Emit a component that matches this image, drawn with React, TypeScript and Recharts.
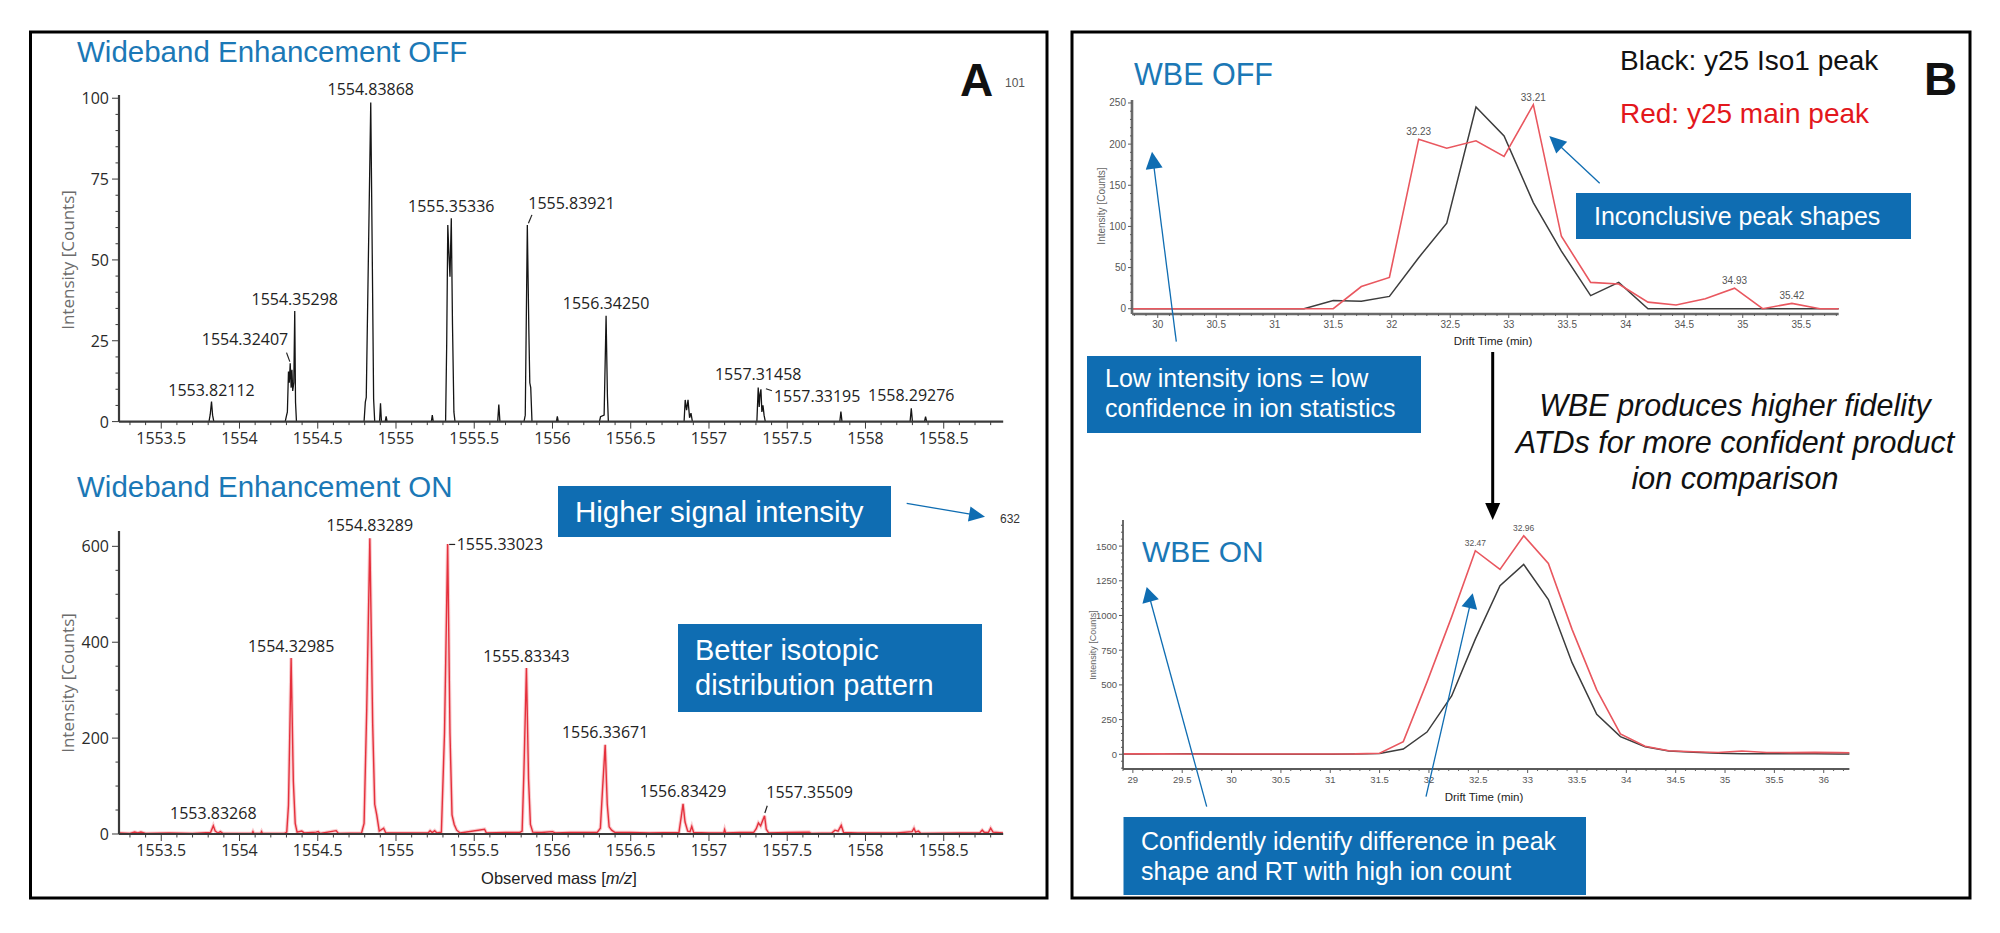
import React from 'react';
import { LineChart, Line, XAxis, YAxis, ReferenceDot } from 'recharts';

// ---------- Panel A: isotope envelopes (m/z vs counts) ----------
const mzDomain: [number, number] = [1553.23, 1558.88];
const mzMajorTicks = [1553.5, 1554, 1554.5, 1555, 1555.5, 1556, 1556.5, 1557, 1557.5, 1558, 1558.5];
const offCountTicks = [0, 25, 50, 75, 100];
const onCountTicks = [0, 200, 400, 600];
const offCountMax = 101;
const onCountMax = 632;

// Wideband Enhancement OFF spectrum: [m/z, counts]
const offSpectrum: [number, number][] = [
  [1553.23, 0], [1553.805, 0], [1553.813, 2.2], [1553.82112, 6.2], [1553.828, 2.0], [1553.836, 0],
  [1554.292, 0], [1554.3, 1.8], [1554.306, 3.0], [1554.313, 15.5], [1554.318, 12.0], [1554.32407, 18.0],
  [1554.33, 10.5], [1554.335, 16.0], [1554.34, 9.5], [1554.347, 12.0], [1554.35298, 34.2], [1554.358, 6.0], [1554.364, 0],
  [1554.796, 0], [1554.804, 6.0], [1554.81, 7.5], [1554.824, 52.0], [1554.83868, 98.7], [1554.849, 48.0], [1554.857, 7.0], [1554.864, 0],
  [1554.895, 0], [1554.901, 5.7], [1554.907, 0], [1554.931, 0], [1554.937, 1.6], [1554.943, 0],
  [1555.226, 0], [1555.232, 2.0], [1555.238, 0],
  [1555.317, 0], [1555.324, 24.0], [1555.331, 60.8], [1555.338, 52.0], [1555.345, 44.8], [1555.35336, 62.9],
  [1555.361, 30.0], [1555.37, 3.0], [1555.377, 0],
  [1555.65, 0], [1555.657, 5.3], [1555.664, 0],
  [1555.818, 0], [1555.826, 2.0], [1555.83921, 60.8], [1555.849, 28.0], [1555.855, 12.0], [1555.861, 10.5], [1555.869, 0],
  [1556.025, 0], [1556.031, 1.6], [1556.037, 0],
  [1556.3, 0], [1556.307, 1.5], [1556.33, 2.0], [1556.3425, 32.7], [1556.351, 8.0], [1556.357, 0],
  [1556.841, 0], [1556.848, 6.7], [1556.857, 3.5], [1556.866, 6.7], [1556.876, 1.2], [1556.885, 2.6], [1556.894, 0],
  [1557.306, 0], [1557.31458, 10.5], [1557.321, 4.5], [1557.326, 8.5], [1557.33195, 10.0], [1557.338, 3.0],
  [1557.345, 5.0], [1557.352, 2.0], [1557.36, 0],
  [1557.836, 0], [1557.843, 3.1], [1557.85, 0],
  [1558.285, 0], [1558.29276, 4.1], [1558.3, 0],
  [1558.377, 0], [1558.384, 1.5], [1558.391, 0],
  [1558.88, 0],
];

// Wideband Enhancement ON spectrum: [m/z, counts]
const onSpectrum: [number, number][] = [
  [1553.23, 2], [1553.3, 1], [1553.33, 4], [1553.35, 2], [1553.37, 4], [1553.4, 1], [1553.55, 2], [1553.7, 1],
  [1553.815, 3], [1553.83268, 17.3], [1553.845, 6], [1553.862, 2], [1553.878, 5], [1553.895, 1],
  [1554.08, 1], [1554.086, 5], [1554.092, 1], [1554.135, 1], [1554.141, 5], [1554.147, 1],
  [1554.285, 1], [1554.302, 4], [1554.313, 60], [1554.32985, 367], [1554.344, 110], [1554.356, 22], [1554.368, 4],
  [1554.398, 6], [1554.415, 2], [1554.49, 4], [1554.503, 5], [1554.515, 1], [1554.618, 7], [1554.632, 1],
  [1554.78, 2], [1554.796, 22], [1554.813, 260], [1554.83289, 617], [1554.851, 230], [1554.864, 62], [1554.877, 40],
  [1554.893, 6], [1554.921, 12], [1554.935, 2],
  [1555.205, 2], [1555.218, 7], [1555.232, 3], [1555.247, 7], [1555.262, 2],
  [1555.29, 4], [1555.31, 210], [1555.33023, 605], [1555.345, 210], [1555.358, 40], [1555.372, 20], [1555.388, 8], [1555.41, 2],
  [1555.566, 10], [1555.578, 2], [1555.7, 3], [1555.79, 3],
  [1555.806, 6], [1555.817, 125], [1555.83343, 346], [1555.847, 115], [1555.859, 20], [1555.874, 4],
  [1555.93, 3], [1556.0, 5], [1556.02, 2], [1556.11, 3],
  [1556.285, 3], [1556.306, 12], [1556.321, 100], [1556.33671, 186], [1556.35, 62], [1556.362, 15], [1556.378, 8], [1556.4, 3],
  [1556.5, 3], [1556.62, 2],
  [1556.808, 3], [1556.821, 32], [1556.83429, 63], [1556.847, 25], [1556.864, 6], [1556.879, 5], [1556.89, 16], [1556.902, 3],
  [1557.0, 2], [1557.094, 2], [1557.1, 9], [1557.106, 2], [1557.2, 3],
  [1557.285, 3], [1557.302, 11], [1557.316, 23], [1557.33, 17], [1557.35509, 38], [1557.366, 10], [1557.382, 2],
  [1557.5, 3], [1557.64, 4], [1557.655, 1],
  [1557.785, 2], [1557.805, 8], [1557.825, 6], [1557.845, 18], [1557.86, 3], [1557.95, 2],
  [1558.2, 2], [1558.298, 5], [1558.31, 12], [1558.32, 4], [1558.338, 6], [1558.355, 1],
  [1558.6, 2], [1558.73, 2], [1558.746, 8], [1558.76, 3], [1558.785, 3], [1558.8, 12], [1558.815, 4], [1558.88, 2],
];

// annotated centroids
const offPeakLabels = [1553.82112, 1554.32407, 1554.35298, 1554.83868, 1555.35336, 1555.83921, 1556.3425, 1557.31458, 1557.33195, 1558.29276];
const onPeakLabels = [1553.83268, 1554.32985, 1554.83289, 1555.33023, 1555.83343, 1556.33671, 1556.83429, 1557.35509];

// ---------- Panel B: arrival time distributions ----------
const driftTimes = [
  28.8, 29.05, 29.29, 29.54, 29.78, 30.03, 30.27, 30.52, 30.76, 31.01, 31.25, 31.5, 31.74, 31.98, 32.23, 32.47,
  32.72, 32.96, 33.21, 33.45, 33.7, 33.94, 34.19, 34.43, 34.68, 34.93, 35.17, 35.42, 35.66, 35.91, 36.15, 36.4,
];
const iso1Off = [
  null, null, null, null, 0, 0, 0, 0, 0, 0, 0, 10, 9, 15, 62, 104,
  245, 210, 129, 70, 16, 32, 0, 0, 0, 0, 0, 0, 0, 0, null, null,
];
const mainOff = [
  null, null, null, null, 0, 0, 0, 0, 0, 0, 0, 0, 27, 38, 206, 195,
  204, 185, 248, 88, 32, 30, 8, 4.5, 12, 25, 0, 6.5, 0, 0, null, null,
];
const iso1On = [
  2, 2, 3, 3, 2, 1, 1, 1, 1, 1, 2, 5, 38, 160, 420, 830,
  1215, 1368, 1115, 660, 288, 127, 55, 24, 14, 8, 4, 3, 3, 3, 2, 2,
];
const mainOn = [
  3, 3, 3, 2, 2, 2, 2, 2, 2, 2, 3, 8, 91, 520, 990, 1467,
  1332, 1575, 1375, 900, 464, 147, 58, 26, 18, 13, 24, 13, 12, 14, 12, 10,
];
const offDriftDomain: [number, number] = [29.78, 35.82];
const onDriftDomain: [number, number] = [28.9, 36.26];
const offDriftTicks = [30, 30.5, 31, 31.5, 32, 32.5, 33, 33.5, 34, 34.5, 35, 35.5];
const onDriftTicks = [29, 29.5, 30, 30.5, 31, 31.5, 32, 32.5, 33, 33.5, 34, 34.5, 35, 35.5, 36];
const offAtdTicks = [0, 50, 100, 150, 200, 250];
const onAtdTicks = [0, 250, 500, 750, 1000, 1250, 1500];
const offAtdDomain: [number, number] = [-6.4, 253.6];
const onAtdDomain: [number, number] = [-106, 1688];
const offAtdLabels = [32.23, 33.21, 34.93, 35.42];
const onAtdLabels = [32.47, 32.96];

// ---------- helpers ----------
const steps = (from: number, to: number, step: number) => {
  const out: number[] = [];
  const n = Math.round((to - from) / step);
  for (let i = 0; i <= n; i++) out.push(+(from + i * step).toFixed(4));
  return out;
};

type AxisStyle = {
  stroke: string;
  width: number;
  major: number;
  minor: number;
  font: string;
  size: number;
  color: string;
  xLabelDy: number;
  yLabelDx: number;
};

const styleA: AxisStyle = {
  stroke: '#3a3a3a', width: 2.2, major: 7, minor: 3.5,
  font: '"Open Sans", "Noto Sans", sans-serif', size: 16, color: '#2a2a2a', xLabelDy: 16.5, yLabelDx: -10,
};
const styleB: AxisStyle = {
  stroke: '#5a5a5a', width: 1.8, major: 4, minor: 2,
  font: '"Liberation Sans", Arial, sans-serif', size: 10, color: '#555', xLabelDy: 11, yLabelDx: -6,
};

const makeXTick = (st: AxisStyle, majors: number[], size = st.size) => (p: any) => {
  const v = p.payload.value;
  const major = majors.includes(v);
  return (
    <g>
      <line x1={p.x} x2={p.x} y1={p.y} y2={p.y + (major ? st.major : st.minor)} stroke={st.stroke} strokeWidth={1} />
      {major && (
        <text x={p.x} y={p.y + st.xLabelDy} textAnchor="middle" dominantBaseline="central"
          fontFamily={st.font} fontSize={size} fill={st.color}>{String(v)}</text>
      )}
    </g>
  );
};

const makeYTick = (st: AxisStyle, majors: number[], size = st.size) => (p: any) => {
  const v = p.payload.value;
  const major = majors.includes(v);
  return (
    <g>
      <line x1={p.x} x2={p.x - (major ? st.major : st.minor)} y1={p.y} y2={p.y} stroke={st.stroke} strokeWidth={1} />
      {major && (
        <text x={p.x + st.yLabelDx} y={p.y} textAnchor="end" dominantBaseline="central"
          fontFamily={st.font} fontSize={size} fill={st.color}>{String(v)}</text>
      )}
    </g>
  );
};

type TagLayout = { dx: number; dy: number; anchor: 'start' | 'middle' | 'end'; leader?: [number, number, number, number] };

const tagShape = (text: string, lay: TagLayout, font: string, size: number, color: string) => (p: any) => (
  <g>
    {lay.leader && (
      <line x1={p.cx + lay.leader[0]} y1={p.cy + lay.leader[1]} x2={p.cx + lay.leader[2]} y2={p.cy + lay.leader[3]}
        stroke={color} strokeWidth={1.2} />
    )}
    <text x={p.cx + lay.dx} y={p.cy + lay.dy} textAnchor={lay.anchor} dominantBaseline="central"
      fontFamily={font} fontSize={size} fill={color}>{text}</text>
  </g>
);

type Box = { left: number; top: number; right: number; bottom: number };
type Pad = { top: number; right: number; bottom: number; left: number };

function Plot(props: {
  box: Box; pad: Pad; data: any[]; xKey: string;
  xDomain: [number, number]; yDomain: [number, number];
  xTicks: number[]; yTicks: number[]; xTick: any; yTick: any; st: AxisStyle;
  children: React.ReactNode;
}) {
  const { box, pad, st } = props;
  const w = pad.left + (box.right - box.left) + pad.right;
  const h = pad.top + (box.bottom - box.top) + pad.bottom;
  return (
    <div style={{ position: 'absolute', left: box.left - pad.left, top: box.top - pad.top, width: w, height: h }}>
      <LineChart width={w} height={h} data={props.data} margin={{ top: pad.top, right: pad.right, left: 0, bottom: 0 }}>
        <XAxis dataKey={props.xKey} type="number" domain={props.xDomain} ticks={props.xTicks} interval={0}
          allowDataOverflow tickSize={0} tickMargin={0} tickLine={false} height={pad.bottom}
          axisLine={{ stroke: st.stroke, strokeWidth: st.width }} tick={props.xTick} />
        <YAxis type="number" domain={props.yDomain} ticks={props.yTicks} interval={0}
          allowDataOverflow tickSize={0} tickMargin={0} tickLine={false} width={pad.left}
          axisLine={{ stroke: st.stroke, strokeWidth: st.width }} tick={props.yTick} />
        {props.children}
      </LineChart>
    </div>
  );
}

const countAt = (spec: [number, number][], mz: number) => (spec.find(([m]) => m === mz) || [mz, 0])[1];

// layout of the centroid tags, in label order
const offTagLayout: TagLayout[] = [
  { dx: 0, dy: -12, anchor: 'middle' },
  { dx: -2, dy: -24, anchor: 'end', leader: [-3.7, -10.8, -0.4, -1.8] },
  { dx: 0, dy: -12.5, anchor: 'middle' },
  { dx: 0, dy: -13, anchor: 'middle' },
  { dx: 0, dy: -12.5, anchor: 'middle' },
  { dx: 1, dy: -22, anchor: 'start', leader: [4.6, -10.1, 1.1, -1.8] },
  { dx: 0, dy: -13, anchor: 'middle' },
  { dx: 0, dy: -13.5, anchor: 'middle' },
  { dx: 13, dy: 6.5, anchor: 'start', leader: [5, -0.5, 11, 1.5] },
  { dx: 0, dy: -13, anchor: 'middle' },
];
const onTagLayout: TagLayout[] = [
  { dx: 0, dy: -13, anchor: 'middle' },
  { dx: 0, dy: -12.5, anchor: 'middle' },
  { dx: 0, dy: -13.5, anchor: 'middle' },
  { dx: 9, dy: 0.5, anchor: 'start', leader: [1.5, 0.5, 7.5, 0.5] },
  { dx: 0, dy: -12.5, anchor: 'middle' },
  { dx: 0, dy: -13, anchor: 'middle' },
  { dx: 0, dy: -12.5, anchor: 'middle' },
  { dx: 45, dy: -23.4, anchor: 'middle', leader: [2.7, -10, 0.3, -2.8] },
];

function Arrow({ x1, y1, x2, y2, color, width, head, headW }: {
  x1: number; y1: number; x2: number; y2: number; color: string; width: number; head: number; headW: number;
}) {
  const dx = x2 - x1;
  const dy = y2 - y1;
  const len = Math.hypot(dx, dy);
  const ux = dx / len;
  const uy = dy / len;
  const bx = x2 - ux * head;
  const by = y2 - uy * head;
  const px = (-uy * headW) / 2;
  const py = (ux * headW) / 2;
  return (
    <g>
      <line x1={x1} y1={y1} x2={bx + ux * 1} y2={by + uy * 1} stroke={color} strokeWidth={width} />
      <polygon points={`${x2},${y2} ${bx + px},${by + py} ${bx - px},${by - py}`} fill={color} />
    </g>
  );
}

const BLUE = '#0f6db2';
const TITLE_BLUE = '#1b78b6';
const SANS = '"Liberation Sans", Arial, sans-serif';

export default function App() {
  const offData = offSpectrum.map(([mz, c]) => ({ mz, c }));
  const onData = onSpectrum.map(([mz, c]) => ({ mz, c }));
  const atdOff = driftTimes.map((t, i) => ({ t, iso1: iso1Off[i], main: mainOff[i] }));
  const atdOn = driftTimes.map((t, i) => ({ t, iso1: iso1On[i], main: mainOn[i] }));

  const mzTicks = steps(1553.3, 1558.8, 0.1);
  const padA: Pad = { top: 40, right: 30, bottom: 40, left: 95 };
  const padB: Pad = { top: 30, right: 20, bottom: 26, left: 40 };

  return (
    <div style={{ position: 'absolute', left: 0, top: 0, width: 2000, height: 933, background: '#fff', overflow: 'hidden' }}>
      {/* A: WBE off */}
      <Plot box={{ left: 119, top: 95.1, right: 1003.2, bottom: 421.7 }} pad={padA} data={offData} xKey="mz"
        xDomain={mzDomain} yDomain={[0, offCountMax]} xTicks={mzTicks} yTicks={steps(0, 100, 5)}
        xTick={makeXTick(styleA, mzMajorTicks)} yTick={makeYTick(styleA, offCountTicks)} st={styleA}>
        <Line type="linear" dataKey="c" stroke="#151515" strokeWidth={1.3} dot={false} isAnimationActive={false} />
        {offPeakLabels.map((mz, i) => (
          <ReferenceDot key={mz} x={mz} y={countAt(offSpectrum, mz)} r={0} ifOverflow="visible"
            shape={tagShape(mz.toFixed(5), offTagLayout[i], styleA.font, 16, '#222')} />
        ))}
      </Plot>

      {/* A: WBE on */}
      <Plot box={{ left: 119, top: 531.3, right: 1003.2, bottom: 834.3 }} pad={padA} data={onData} xKey="mz"
        xDomain={mzDomain} yDomain={[0, onCountMax]} xTicks={mzTicks} yTicks={steps(0, 600, 50)}
        xTick={makeXTick(styleA, mzMajorTicks)} yTick={makeYTick(styleA, onCountTicks)} st={styleA}>
        <Line type="linear" dataKey="c" stroke="rgba(235,70,80,0.28)" strokeWidth={3.5} dot={false} isAnimationActive={false} />
        <Line type="linear" dataKey="c" stroke="#e5303c" strokeWidth={1.4} dot={false} isAnimationActive={false} />
        {onPeakLabels.map((mz, i) => (
          <ReferenceDot key={mz} x={mz} y={countAt(onSpectrum, mz)} r={0} ifOverflow="visible"
            shape={tagShape(mz.toFixed(5), onTagLayout[i], styleA.font, 16, '#222')} />
        ))}
      </Plot>

      {/* B: WBE off */}
      <Plot box={{ left: 1132.3, top: 100, right: 1839, bottom: 314 }} pad={padB} data={atdOff} xKey="t"
        xDomain={offDriftDomain} yDomain={offAtdDomain} xTicks={steps(29.8, 35.8, 0.1)} yTicks={steps(0, 250, 10)}
        xTick={makeXTick(styleB, offDriftTicks, 10)} yTick={makeYTick(styleB, offAtdTicks, 10)} st={{ ...styleB, width: 2.6, stroke: '#6a6a6a' }}>
        <Line type="linear" dataKey="iso1" stroke="#3d3d3d" strokeWidth={1.5} dot={false} isAnimationActive={false} />
        <Line type="linear" dataKey="main" stroke="#e9575f" strokeWidth={1.6} dot={false} isAnimationActive={false} />
        {offAtdLabels.map((t) => (
          <ReferenceDot key={t} x={t} y={mainOff[driftTimes.indexOf(t)] as number} r={0} ifOverflow="visible"
            shape={tagShape(t.toFixed(2), { dx: 0, dy: -7.5, anchor: 'middle' }, SANS, 10, '#555')} />
        ))}
      </Plot>

      {/* B: WBE on */}
      <Plot box={{ left: 1122.8, top: 520, right: 1849.2, bottom: 769 }} pad={padB} data={atdOn} xKey="t"
        xDomain={onDriftDomain} yDomain={onAtdDomain} xTicks={steps(28.9, 36.2, 0.1)} yTicks={steps(-100, 1650, 50)}
        xTick={makeXTick(styleB, onDriftTicks, 9.5)} yTick={makeYTick(styleB, onAtdTicks, 9.5)} st={styleB}>
        <Line type="linear" dataKey="iso1" stroke="#3d3d3d" strokeWidth={1.5} dot={false} isAnimationActive={false} />
        <Line type="linear" dataKey="main" stroke="#e9575f" strokeWidth={1.6} dot={false} isAnimationActive={false} />
        {onAtdLabels.map((t) => (
          <ReferenceDot key={t} x={t} y={mainOn[driftTimes.indexOf(t)]} r={0} ifOverflow="visible"
            shape={tagShape(t.toFixed(2), { dx: 0, dy: -7.5, anchor: 'middle' }, SANS, 8.5, '#555')} />
        ))}
      </Plot>

      {/* frames, titles and callouts */}
      <svg width={2000} height={933} style={{ position: 'absolute', left: 0, top: 0, pointerEvents: 'none' }}>
        <rect x={30.5} y={32} width={1016.5} height={866} fill="none" stroke="#000" strokeWidth={3} />
        <rect x={1072} y={32} width={898} height={866} fill="none" stroke="#000" strokeWidth={3} />

        {/* panel A */}
        <text x={77} y={62} fontFamily={SANS} fontSize={29.5} fill={TITLE_BLUE}>Wideband Enhancement OFF</text>
        <text x={77} y={497} fontFamily={SANS} fontSize={29.5} fill={TITLE_BLUE}>Wideband Enhancement ON</text>
        <text x={960} y={96} fontFamily={SANS} fontSize={46} fontWeight="bold" fill="#111">A</text>
        <text x={1005} y={87} fontFamily={SANS} fontSize={12} fill="#555">101</text>
        <text x={1000} y={523} fontFamily={SANS} fontSize={12} fill="#333">632</text>
        <text transform="translate(67,260) rotate(-90)" textAnchor="middle" dominantBaseline="central"
          fontFamily={styleA.font} fontSize={17} fill="#6c6c6c">Intensity [Counts]</text>
        <text transform="translate(67,683) rotate(-90)" textAnchor="middle" dominantBaseline="central"
          fontFamily={styleA.font} fontSize={17} fill="#6c6c6c">Intensity [Counts]</text>
        <text x={559} y={884} textAnchor="middle" fontFamily={SANS} fontSize={16.5} fill="#222">
          Observed mass [<tspan fontStyle="italic">m/z</tspan>]
        </text>

        <rect x={558} y={486} width={333} height={51} fill={BLUE} />
        <text x={575} y={522} fontFamily={SANS} fontSize={29.5} fill="#fff">Higher signal intensity</text>
        <Arrow x1={906.7} y1={503.3} x2={985} y2={516.7} color={BLUE} width={1.3} head={16} headW={15} />

        <rect x={678} y={624} width={304} height={88} fill={BLUE} />
        <text x={695} y={660} fontFamily={SANS} fontSize={29} fill="#fff">Better isotopic</text>
        <text x={695} y={695} fontFamily={SANS} fontSize={29} fill="#fff">distribution pattern</text>

        {/* panel B */}
        <text x={1134} y={85} fontFamily={SANS} fontSize={30.5} fill={TITLE_BLUE}>WBE OFF</text>
        <text x={1142} y={562} fontFamily={SANS} fontSize={30} fill={TITLE_BLUE}>WBE ON</text>
        <text x={1620} y={70} fontFamily={SANS} fontSize={28} fill="#111">Black: y25 Iso1 peak</text>
        <text x={1620} y={123} fontFamily={SANS} fontSize={28} fill="#e3171c">Red: y25 main peak</text>
        <text x={1924} y={95} fontFamily={SANS} fontSize={46} fontWeight="bold" fill="#111">B</text>

        <text transform="translate(1101,206) rotate(-90)" textAnchor="middle" dominantBaseline="central"
          fontFamily={SANS} fontSize={10} fill="#666">Intensity [Counts]</text>
        <text transform="translate(1093,645) rotate(-90)" textAnchor="middle" dominantBaseline="central"
          fontFamily={SANS} fontSize={9} fill="#666">Intensity [Counts]</text>
        <text x={1493} y={341} textAnchor="middle" dominantBaseline="central" fontFamily={SANS} fontSize={11.5} fill="#222">Drift Time (min)</text>
        <text x={1484} y={797} textAnchor="middle" dominantBaseline="central" fontFamily={SANS} fontSize={11.5} fill="#222">Drift Time (min)</text>

        <rect x={1576} y={193} width={335} height={46} fill={BLUE} />
        <text x={1594} y={225} fontFamily={SANS} fontSize={25} fill="#fff">Inconclusive peak shapes</text>
        <Arrow x1={1599.7} y1={183.3} x2={1549.3} y2={136} color={BLUE} width={1.3} head={17} headW={16} />

        <rect x={1087} y={356} width={334} height={77} fill={BLUE} />
        <text x={1105} y={387} fontFamily={SANS} fontSize={25} fill="#fff">Low intensity ions = low</text>
        <text x={1105} y={417} fontFamily={SANS} fontSize={25} fill="#fff">confidence in ion statistics</text>
        <Arrow x1={1176.3} y1={341.7} x2={1152} y2={151.7} color={BLUE} width={1.3} head={17} headW={17} />

        <Arrow x1={1492.7} y1={352} x2={1492.7} y2={520} color="#000" width={3} head={17} headW={15} />

        <g fontFamily={SANS} fontSize={30.5} fontStyle="italic" fill="#111" textAnchor="middle">
          <text x={1735} y={416}>WBE produces higher fidelity</text>
          <text x={1735} y={453}>ATDs for more confident product</text>
          <text x={1735} y={489}>ion comparison</text>
        </g>

        <rect x={1123.5} y={817} width={462.5} height={78} fill={BLUE} />
        <text x={1141} y={850} fontFamily={SANS} fontSize={25} fill="#fff">Confidently identify difference in peak</text>
        <text x={1141} y={880} fontFamily={SANS} fontSize={25} fill="#fff">shape and RT with high ion count</text>
        <Arrow x1={1206.7} y1={806.7} x2={1146.7} y2={587} color={BLUE} width={1.3} head={15} headW={17} />
        <Arrow x1={1426} y1={796.7} x2={1472.7} y2={593.3} color={BLUE} width={1.3} head={15} headW={16} />
      </svg>
    </div>
  );
}
